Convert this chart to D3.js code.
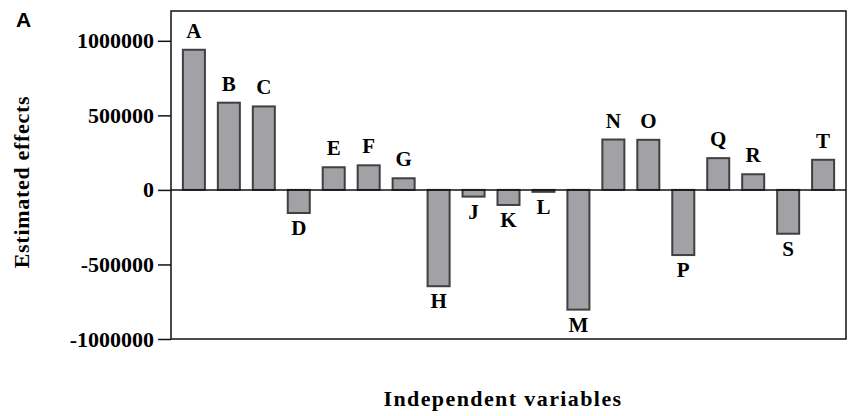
<!DOCTYPE html>
<html>
<head>
<meta charset="utf-8">
<script src="https://cdn.jsdelivr.net/npm/d3@7"></script>
<style>
  body { margin: 0; background: #fff; }
  svg text { font-family: "Liberation Serif", "Times New Roman", serif; font-weight: bold; fill: #000; }
</style>
</head>
<body>
<svg id="chart"></svg>
<script>
// variables (no "I") and their estimated effects
var variables = ["A","B","C","D","E","F","G","H","J","K","L","M","N","O","P","Q","R","S","T"];
var effects = [940000, 585000, 560000, -155000, 152000, 165000, 78000, -646000, -45000, -101000,
               -13000, -803000, 338000, 336000, -437000, 213000, 105000, -294000, 202000];
var yTicks = [-1000000, -500000, 0, 500000, 1000000];

var width = 848, height = 416;
var margins = {top: 11, right: 2, bottom: 77, left: 171};

var svg = d3.select('#chart')
  .attr('width', width)
  .attr('height', height);

// scales
var xScale = d3.scaleBand()
  .domain(variables)
  .range([margins.left, width - margins.right])
  .paddingInner(0.37)
  .paddingOuter(0.34);

var yScale = d3.scaleLinear()
  .domain([-1000000, 1200000])
  .range([height - margins.bottom, margins.top]);

// bars
svg.append('g')
  .selectAll('rect')
  .data(effects)
  .enter()
  .append('rect')
  .attr('x', function(d, i) { return xScale(variables[i]); })
  .attr('y', function(d) { return yScale(Math.max(d, 0)); })
  .attr('width', xScale.bandwidth())
  .attr('height', function(d) { return Math.abs(yScale(d) - yScale(0)); })
  .attr('fill', '#a1a1a6')
  .attr('stroke', '#404040')
  .attr('stroke-width', 2);

// letter above / below each bar
svg.append('g')
  .selectAll('text')
  .data(effects)
  .enter()
  .append('text')
  .attr('x', function(d, i) { return xScale(variables[i]) + xScale.bandwidth() / 2; })
  .attr('y', function(d) { return d >= 0 ? yScale(d) - 12 : yScale(d) + 22; })
  .attr('text-anchor', 'middle')
  .attr('font-size', '21px')
  .text(function(d, i) { return variables[i]; });

// zero line
svg.append('line')
  .attr('x1', margins.left).attr('x2', width - margins.right)
  .attr('y1', yScale(0)).attr('y2', yScale(0))
  .attr('stroke', '#111')
  .attr('stroke-width', 1.5);

// frame
svg.append('rect')
  .attr('x', margins.left)
  .attr('y', margins.top)
  .attr('width', width - margins.right - margins.left)
  .attr('height', height - margins.bottom - margins.top)
  .attr('fill', 'none')
  .attr('stroke', '#111')
  .attr('stroke-width', 1.5);

// y axis (plain hyphen for negatives, like the original)
var yAxis = svg.append('g')
  .attr('transform', 'translate(' + margins.left + ',0)')
  .call(d3.axisLeft(yScale).tickValues(yTicks).tickFormat(function(d) { return String(d); }).tickSize(13).tickPadding(4));
yAxis.select('.domain').remove();
yAxis.selectAll('line').attr('stroke', '#111').attr('stroke-width', 1.5);
yAxis.selectAll('text')
  .attr('font-size', '22px');

// axis titles
svg.append('text')
  .attr('transform', 'translate(29,182) rotate(-90)')
  .attr('text-anchor', 'middle')
  .attr('font-size', '22px')
  .attr('letter-spacing', '0.7px')
  .text('Estimated effects');

svg.append('text')
  .attr('x', 503)
  .attr('y', 406)
  .attr('text-anchor', 'middle')
  .attr('font-size', '22px')
  .attr('letter-spacing', '1.4px')
  .text('Independent variables');

// panel letter
svg.append('text')
  .attr('x', 16)
  .attr('y', 27)
  .attr('font-size', '21px')
  .style('font-family', '"Liberation Sans", Arial, sans-serif')
  .text('A');
</script>
</body>
</html>
